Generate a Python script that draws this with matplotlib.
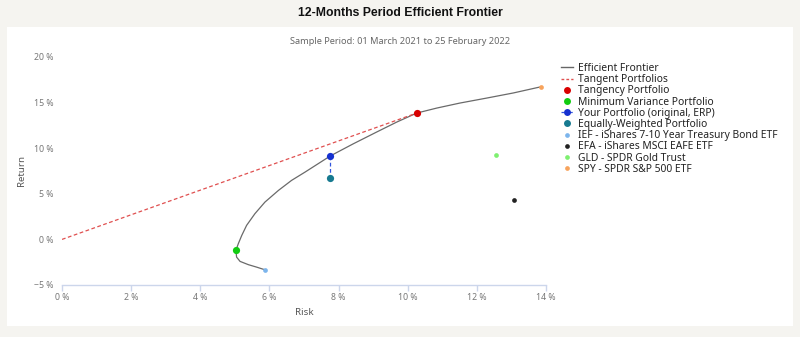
import matplotlib
matplotlib.use("Agg")
import matplotlib.pyplot as plt
from matplotlib.lines import Line2D
from matplotlib.patches import Rectangle

# ---- data (percent) ----
frontier_risk = [5.86, 5.63, 5.39, 5.15, 5.05, 5.03, 5.10, 5.20, 5.34, 5.58, 5.87, 6.26,
                 6.64, 7.03, 7.41, 7.76, 8.43, 9.10, 9.68, 10.26, 10.84, 11.51, 12.29,
                 13.06, 13.86]
frontier_ret = [-3.32, -3.04, -2.77, -2.41, -1.94, -1.21, -0.47, 0.44, 1.54, 2.82, 4.09,
                5.37, 6.47, 7.38, 8.30, 9.15, 10.49, 11.77, 12.86, 13.85, 14.40, 14.95,
                15.50, 16.06, 16.74]
tangent_risk = [0.0, 10.26]
tangent_ret = [0.0, 13.85]

special_names = ["Tangency Portfolio", "Minimum Variance Portfolio",
                 "Your Portfolio (original, ERP)", "Equally-Weighted Portfolio"]
special_risk = [10.26, 5.03, 7.76, 7.76]
special_ret = [13.85, -1.21, 9.15, 6.70]

asset_names = ["IEF - iShares 7-10 Year Treasury Bond ETF", "EFA - iShares MSCI EAFE ETF",
               "GLD - SPDR Gold Trust", "SPY - SPDR S&P 500 ETF"]
asset_risk = [5.86, 13.07, 12.55, 13.86]
asset_ret = [-3.32, 4.30, 9.20, 16.74]

xticks = [0, 2, 4, 6, 8, 10, 12, 14]
yticks = [-5, 0, 5, 10, 15, 20]

special_colors = ["#d90000", "#11cc11", "#1530d0", "#177a90"]
asset_colors = ["#7cb5ec", "#222222", "#7ef070", "#f7a35c"]

plt.rcParams['font.family'] = ['Noto Sans', 'DejaVu Sans']
fig = plt.figure(figsize=(8, 3.37), dpi=100)
fig.patch.set_facecolor('#f5f4f0')
fig.patches.append(Rectangle((7/800, 1-326/337), 786/800, 299/337, transform=fig.transFigure,
                             facecolor='white', edgecolor='none', zorder=-5))

ax = fig.add_axes([62/800, 1-285/337, 484/800, 228/337])
ax.set_zorder(2)
ax.set_facecolor('none')
ax.set_xlim(0, 14)
ax.set_ylim(-5, 20)

ax.plot(frontier_risk, frontier_ret, color='#6a6a6a', lw=0.9, zorder=2,
        solid_joinstyle='round')
ax.plot(tangent_risk, tangent_ret, color='#e05050', lw=0.9, ls=(0, (3, 2)), zorder=2)
ax.plot([special_risk[2], special_risk[3]], [special_ret[2], special_ret[3]],
        color='#3355dd', lw=0.9, ls=(0, (3, 2)), zorder=2)
for r, y, c in zip(special_risk, special_ret, special_colors):
    ax.plot(r, y, 'o', color=c, ms=5.2, mec='none', zorder=4)
for r, y, c in zip(asset_risk, asset_ret, asset_colors):
    ax.plot(r, y, 'o', color=c, ms=3.4, mec='none', zorder=4)

ax.set_xticks(xticks)
ax.set_xticklabels([f"{t} %" for t in xticks])
ax.set_yticks(yticks)
ax.set_yticklabels([f"{t} %" if t >= 0 else f"\u2212{abs(t)} %" for t in yticks])
for s in ['top', 'right', 'left']:
    ax.spines[s].set_visible(False)
ax.spines['bottom'].set_color('#ccd6eb')
ax.spines['bottom'].set_linewidth(1.0)
ax.tick_params(axis='x', colors='#ccd6eb', labelcolor='#777777', length=4.5, width=1,
               labelsize=6.3, pad=1.5)
ax.tick_params(axis='y', length=0, labelcolor='#777777', labelsize=6.3, pad=6)
ax.set_xlabel("Risk", color='#555555', fontsize=7, labelpad=4)
ax.set_ylabel("Return", color='#555555', fontsize=7, labelpad=6)

fig.text(0.5, 1-13/337, "12-Months Period Efficient Frontier", ha='center', va='center',
         fontsize=8.8, fontweight='bold', color='#111111', family=['Liberation Sans'])
fig.text(0.5, 1-42/337, "Sample Period: 01 March 2021 to 25 February 2022", ha='center',
         va='center', fontsize=6.6, color='#666666')

handles = [
    Line2D([], [], color='#666666', lw=1.0),
    Line2D([], [], color='#e05050', lw=1.0, ls=(0, (2, 1.5))),
]
for i, c in enumerate(special_colors):
    if i == 2:
        handles.append(Line2D([], [], color='#3355dd', lw=0.9, ls=(0, (2, 1.5)), marker='o',
                              ms=5, mfc=c, mec='none'))
    else:
        handles.append(Line2D([], [], ls='none', marker='o', ms=5, color=c, mec='none'))
for c in asset_colors:
    handles.append(Line2D([], [], ls='none', marker='o', ms=3.4, color=c, mec='none'))
labels = ["Efficient Frontier", "Tangent Portfolios"] + special_names + asset_names
fig.legend(handles, labels, loc='upper left', bbox_to_anchor=(561/800, 1-63/337),
           frameon=False, fontsize=7.4, handlelength=1.2, handletextpad=0.45,
           labelspacing=0.02, borderaxespad=0, borderpad=0, labelcolor='#222222')

fig.savefig("out.png", dpi=100, facecolor=fig.get_facecolor())
